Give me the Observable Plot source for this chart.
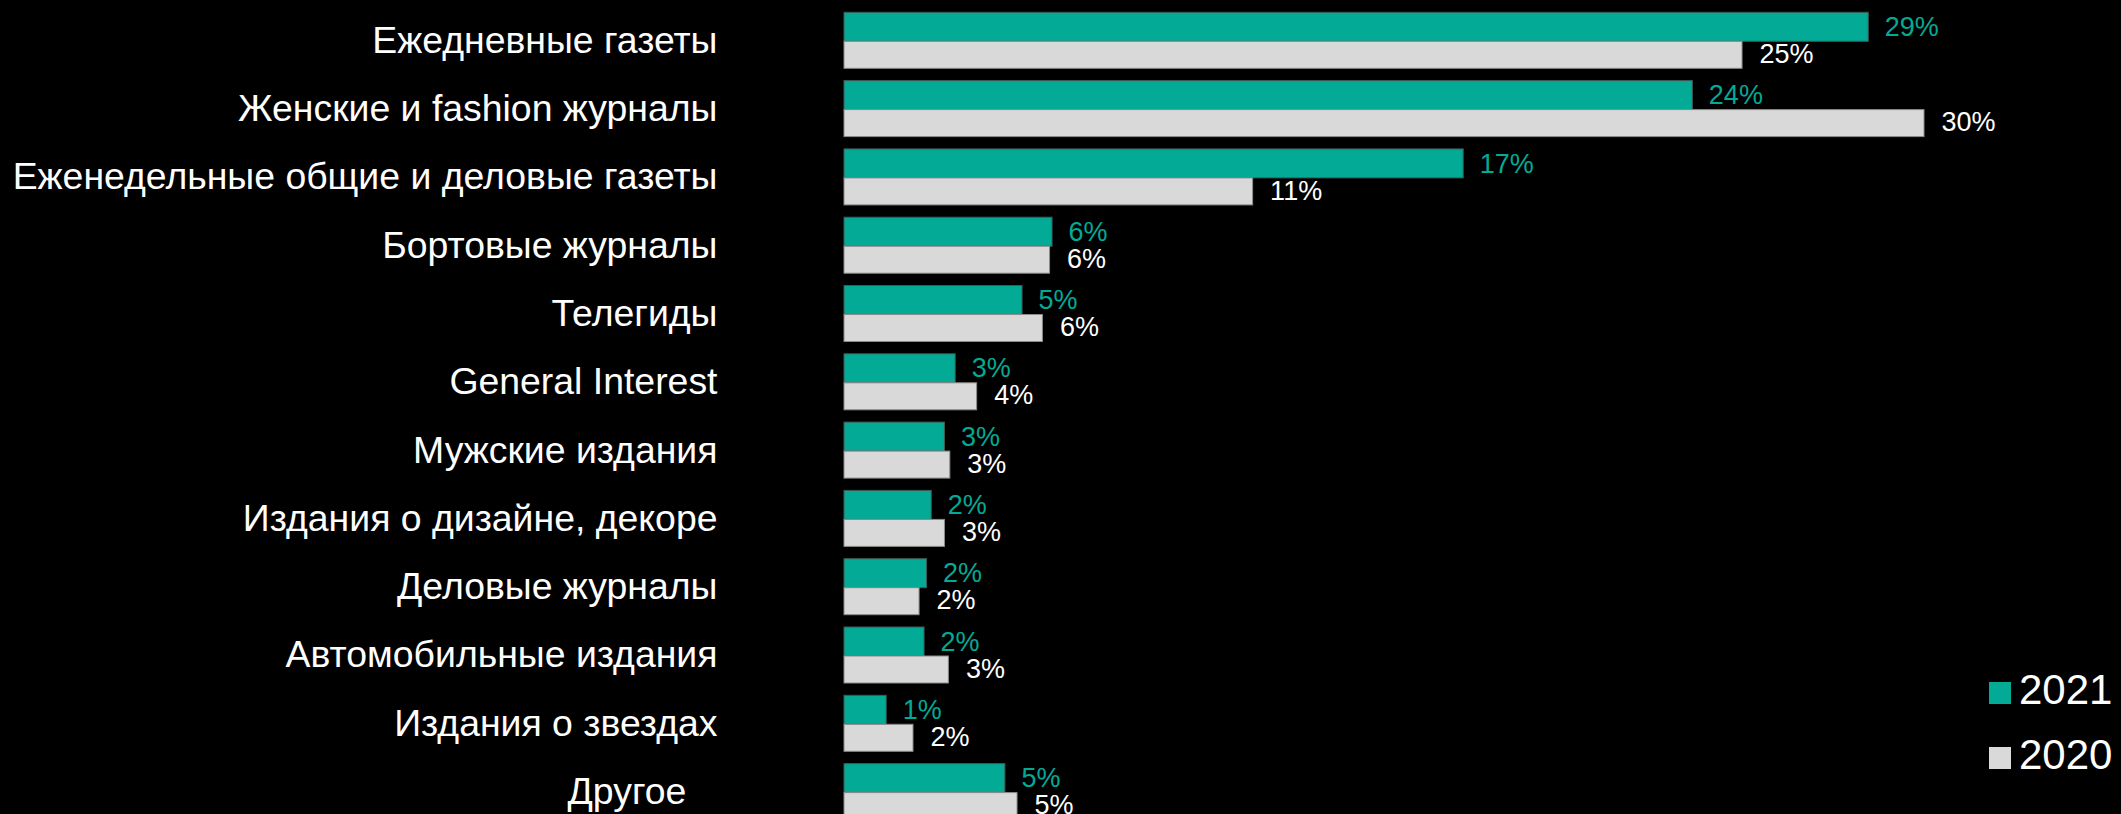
<!DOCTYPE html>
<html>
<head>
<meta charset="utf-8">
<script src="https://cdn.jsdelivr.net/npm/d3@7"></script>
<script src="https://cdn.jsdelivr.net/npm/@observablehq/plot@0.6"></script>
<style>
  html, body { margin: 0; padding: 0; background: #000; overflow: hidden; }
  #wrap { position: relative; width: 2121px; height: 814px; background: #000; font-family: "Liberation Sans", Arial, sans-serif; }
  .lg-sw { position: absolute; width: 22px; height: 22px; }
  .lg-tx { position: absolute; font-size: 42px; line-height: 42px; color: #fff; white-space: nowrap; }
</style>
</head>
<body>
<div id="wrap"></div>
<script>
const categories = [
  "Ежедневные газеты",
  "Женские и fashion журналы",
  "Еженедельные общие и деловые газеты",
  "Бортовые журналы",
  "Телегиды",
  "General Interest",
  "Мужские издания",
  "Издания о дизайне, декоре",
  "Деловые журналы",
  "Автомобильные издания",
  "Издания о звездах",
  "Другое"
];
const values2021 = [28.65, 23.73, 17.32, 5.82, 4.98, 3.11, 2.81, 2.44, 2.31, 2.24, 1.18, 4.5];
const values2020 = [25.12, 30.21, 11.43, 5.75, 5.55, 3.71, 2.96, 2.81, 2.10, 2.92, 1.93, 4.84];
const seriesNames = ["2021", "2020"];
const seriesColors = ["#03AA96", "#D9D9D9"];

const d2021 = categories.map((c, i) => ({cat: c, value: values2021[i]}));
const d2020 = categories.map((c, i) => ({cat: c, value: values2020[i]}));
const pct = d => Math.round(d.value) + "%";

const chart = Plot.plot({
  width: 2121,
  height: 814,
  marginLeft: 844,
  marginRight: 25.75,
  marginTop: 0,
  marginBottom: 0,
  style: {background: "#000", color: "#fff", fontFamily: "'Liberation Sans', Arial, sans-serif"},
  x: {domain: [0, 35], axis: null},
  y: {domain: categories, range: [6.15, 825.75], paddingInner: 0.18, paddingOuter: 0.09, round: false, axis: null},
  marks: [
    Plot.barX(d2021, {x: "value", y: "cat", fill: seriesColors[0], stroke: "#3f5a56", strokeWidth: 1, insetBottom: 27}),
    Plot.barX(d2020, {x: "value", y: "cat", fill: seriesColors[1], stroke: "#8a8a8a", strokeWidth: 1, insetTop: 29}),
    Plot.text(d2021, {x: "value", y: "cat", text: pct, dx: 16, dy: -13.5, textAnchor: "start", fill: seriesColors[0], fontSize: 27}),
    Plot.text(d2020, {x: "value", y: "cat", text: pct, dx: 17, dy: 13.5, textAnchor: "start", fill: "#fff", fontSize: 27}),
    Plot.axisY({
      tickSize: 0,
      tickPadding: 127,
      fontSize: 37.4,
      fill: "#fff",
      label: null,
      tickFormat: d => d === "Другое" ? d + "\u00a0\u00a0\u00a0" : d
    })
  ]
});

const wrap = document.getElementById("wrap");
wrap.appendChild(chart);

// Legend (overlay, right side)
const legendTops = [682, 747];
const textTops = [669.4, 733.7];
seriesNames.forEach((name, i) => {
  const sw = document.createElement("div");
  sw.className = "lg-sw";
  sw.style.left = "1989px";
  sw.style.top = legendTops[i] + "px";
  sw.style.background = seriesColors[i];
  wrap.appendChild(sw);
  const tx = document.createElement("div");
  tx.className = "lg-tx";
  tx.style.left = "2019px";
  tx.style.top = textTops[i] + "px";
  tx.textContent = name;
  wrap.appendChild(tx);
});
</script>
</body>
</html>
